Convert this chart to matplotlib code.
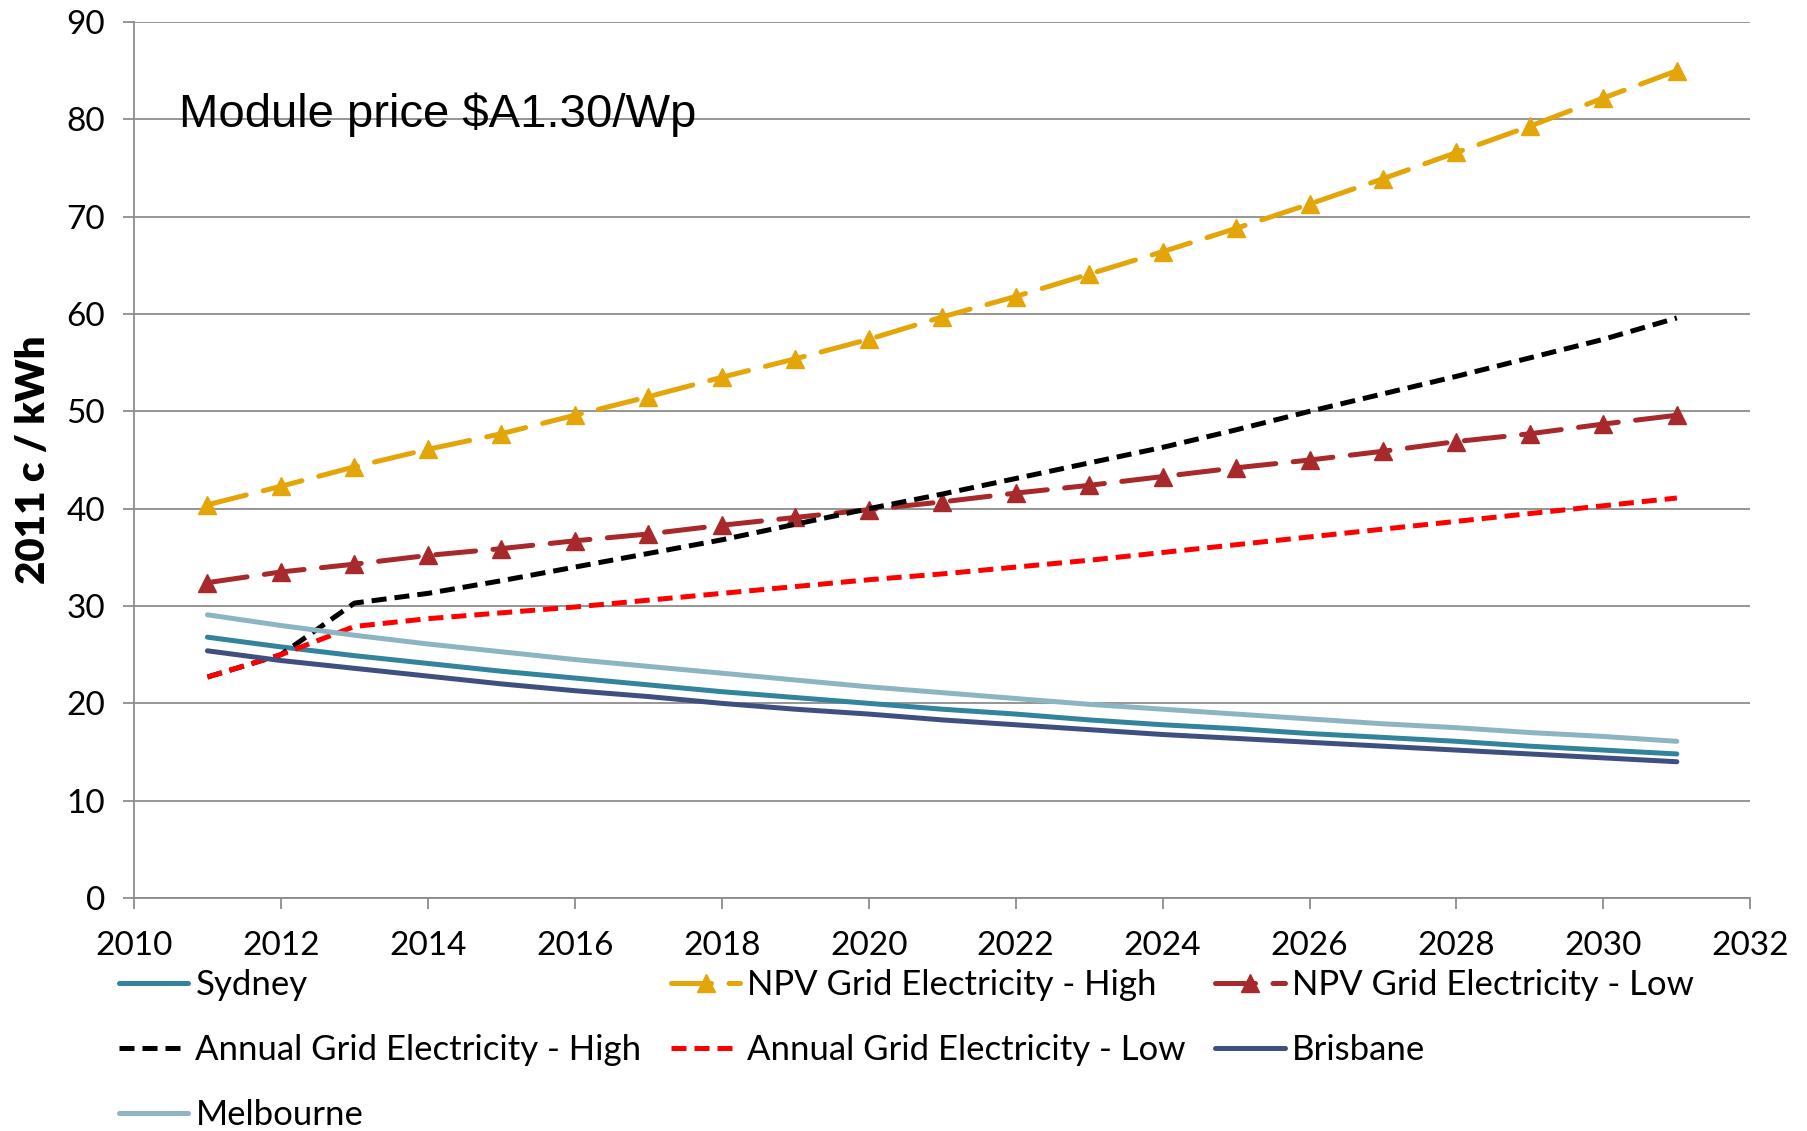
import numpy as np
import matplotlib.pyplot as plt

years = np.arange(2011, 2032)

sydney = [26.8, 25.8, 24.9, 24.1, 23.3, 22.6, 21.9, 21.2, 20.6, 20.0, 19.4,
          18.9, 18.3, 17.8, 17.4, 16.9, 16.5, 16.1, 15.6, 15.2, 14.8]
melbourne = [29.1, 28.0, 27.0, 26.1, 25.3, 24.5, 23.8, 23.1, 22.4, 21.7, 21.1,
             20.5, 19.9, 19.4, 18.9, 18.4, 17.9, 17.5, 17.0, 16.6, 16.1]
brisbane = [25.4, 24.4, 23.6, 22.8, 22.0, 21.3, 20.7, 20.0, 19.4, 18.9, 18.3,
            17.8, 17.3, 16.8, 16.4, 16.0, 15.6, 15.2, 14.8, 14.4, 14.0]
npv_high = [40.4, 42.3, 44.3, 46.1, 47.7, 49.6, 51.5, 53.5, 55.4, 57.4, 59.7,
            61.8, 64.1, 66.4, 68.8, 71.3, 73.9, 76.6, 79.3, 82.2, 85.0]
npv_low = [32.4, 33.5, 34.3, 35.2, 35.9, 36.7, 37.4, 38.3, 39.1, 39.9, 40.7,
           41.6, 42.4, 43.3, 44.2, 45.0, 45.9, 46.9, 47.7, 48.7, 49.6]
annual_high = [22.7, 25.0, 30.3, 31.3, 32.6, 34.0, 35.4, 36.8, 38.4, 40.0, 41.5,
               43.1, 44.7, 46.3, 48.1, 50.0, 51.8, 53.6, 55.5, 57.4, 59.6]
annual_low = [22.7, 25.0, 27.9, 28.7, 29.3, 29.9, 30.6, 31.3, 32.0, 32.7, 33.3,
              34.0, 34.7, 35.5, 36.3, 37.1, 37.9, 38.7, 39.5, 40.3, 41.1]

plt.rcParams['font.family'] = ['Lato', 'DejaVu Sans']

fig = plt.figure(figsize=(18.08, 11.31), dpi=100)
ax = fig.add_axes([0.0741, 0.206, 0.894, 0.7745])

lw = 3.6
solid = dict(lw=lw, solid_capstyle='round')
short = dict(lw=lw, dashes=(3, 1.6), dash_capstyle='butt')
longd = dict(lw=lw, dashes=(8, 3.5), dash_capstyle='round', marker='^', markersize=13)

h_syd, = ax.plot(years, sydney, color='#31849B', label='Sydney', **solid)
h_npvh, = ax.plot(years, npv_high, color='#E3A507', label='NPV Grid Electricity - High', **longd)
h_npvl, = ax.plot(years, npv_low, color='#A8292B', label='NPV Grid Electricity - Low', **longd)
h_ah, = ax.plot(years, annual_high, color='black', label='Annual Grid Electricity - High', **short)
h_al, = ax.plot(years, annual_low, color='#FF0000', label='Annual Grid Electricity - Low', **short)
h_bri, = ax.plot(years, brisbane, color='#3F4F7F', label='Brisbane', **solid)
h_mel, = ax.plot(years, melbourne, color='#8DB4C1', label='Melbourne', **solid)

ax.set_xlim(2010, 2032)
ax.set_ylim(0, 90)
ax.set_xticks(range(2010, 2033, 2))
ax.set_yticks(range(0, 91, 10))
ax.grid(axis='y', color='#8C8C8C', lw=1.3)
ax.set_axisbelow(True)
for s in ['top', 'right']:
    ax.spines[s].set_visible(False)
for s in ['left', 'bottom']:
    ax.spines[s].set_color('#8C8C8C')
    ax.spines[s].set_linewidth(1.3)
ax.tick_params(axis='both', direction='out', length=8, width=1.3, color='#8C8C8C',
               labelsize=24)
ax.tick_params(axis='y', pad=13)
ax.tick_params(axis='x', pad=16)

ax.set_ylabel('2011 c / kWh', fontsize=29, fontweight='heavy', labelpad=10)

ax.text(2010.61, 79.2, 'Module price $A1.30/Wp', fontsize=34,
        family=['Liberation Sans', 'DejaVu Sans'], va='baseline', ha='left')

handles = [h_syd, h_ah, h_mel, h_npvh, h_al, h_npvl, h_bri]
fig.legend(handles=handles, ncol=3, loc='upper left',
           bbox_to_anchor=(119 / 1808, 1 - 969 / 1131), frameon=False,
           fontsize=25, borderpad=0, borderaxespad=0, handlelength=2.0,
           handletextpad=0.2, columnspacing=0.85, labelspacing=0.95)

fig.savefig('out.png', dpi=100)
